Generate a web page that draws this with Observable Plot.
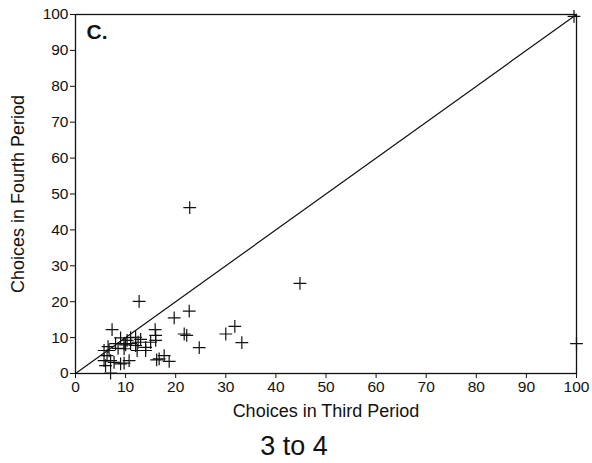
<!DOCTYPE html>
<html>
<head>
<meta charset="utf-8">
<script src="https://cdn.jsdelivr.net/npm/d3@7"></script>
<script src="https://cdn.jsdelivr.net/npm/@observablehq/plot@0.6"></script>
<style>
  body { margin: 0; background: #fff; font-family: "Liberation Sans", Arial, sans-serif; }
  #caption { width: 588px; text-align: center; font-size: 27px; line-height: 32px; margin-top: 2px; color: #111; }
</style>
</head>
<body>
<div id="chart"></div>
<div id="caption">3 to 4</div>
<script>
const thirdPeriod = [99.5,100,44.8,22.8,12.7,22.7,19.7,21.7,22.2,30,31.8,33.2,24.7,16.7,17.7,18.7,16.2,15.9,16,16,15,7.3,9,8,9.7,9.7,12,12.5,12,11,12.3,14,14,5.7,6.7,6.3,5.7,7,7.7,9,9.7,10.7,6,7,10.3,13,11,8.5,6.5,10];
const fourthPeriod = [99.5,8.3,25.1,46.2,20.1,17.4,15.5,11,10.6,11,13.1,8.6,7.2,4.1,5,3.4,3.8,12.2,10.6,9.2,8.7,12.2,9.9,8.3,8.3,6.9,10.1,8.7,7.8,8.3,6.4,7.3,6.4,6.4,6.4,5,3.6,3.6,3.1,2.7,2.9,3.6,2.2,0.1,9.2,9.5,10,7,7.5,8];
const diagonal = [0, 100];
const ticks = [0,10,20,30,40,50,60,70,80,90,100];
const panelLabel = "C.";
const xLabel = "Choices in Third Period";
const yLabel = "Choices in Fourth Period";

const points = thirdPeriod.map((x, i) => ({x, y: fourthPeriod[i]}));
const diag = diagonal.map(v => ({x: v, y: v}));

const chart = Plot.plot({
  width: 592,
  height: 428,
  marginTop: 14,
  marginLeft: 75,
  marginRight: 16,
  marginBottom: 55,
  style: {fontFamily: "'Liberation Sans', Arial, sans-serif", fontSize: "15.5px", color: "#111", background: "#fff"},
  x: {domain: [0, 100], ticks: ticks, tickSize: 5, tickPadding: 2, label: null},
  y: {domain: [0, 100], ticks: ticks, tickSize: 5, tickPadding: 2, label: null},
  marks: [
    Plot.frame({stroke: "#111", strokeWidth: 1.3}),
    Plot.line(diag, {x: "x", y: "y", stroke: "#111", strokeWidth: 1.2}),
    Plot.dot(points, {x: "x", y: "y", symbol: "plus", r: 4.2, stroke: "#111", strokeWidth: 1.2}),
    Plot.text([panelLabel], {frameAnchor: "top-left", dx: 11, dy: 10, lineAnchor: "top", textAnchor: "start", fontWeight: "bold", fontSize: 21, fill: "#111"}),
    Plot.text([xLabel], {frameAnchor: "bottom", dy: 38, lineAnchor: "middle", textAnchor: "middle", fontSize: 18, fill: "#111"}),
    Plot.text([yLabel], {frameAnchor: "left", dx: -57, rotate: -90, lineAnchor: "middle", textAnchor: "middle", fontSize: 18, fill: "#111"})
  ]
});
document.getElementById("chart").appendChild(chart);
</script>
</body>
</html>
